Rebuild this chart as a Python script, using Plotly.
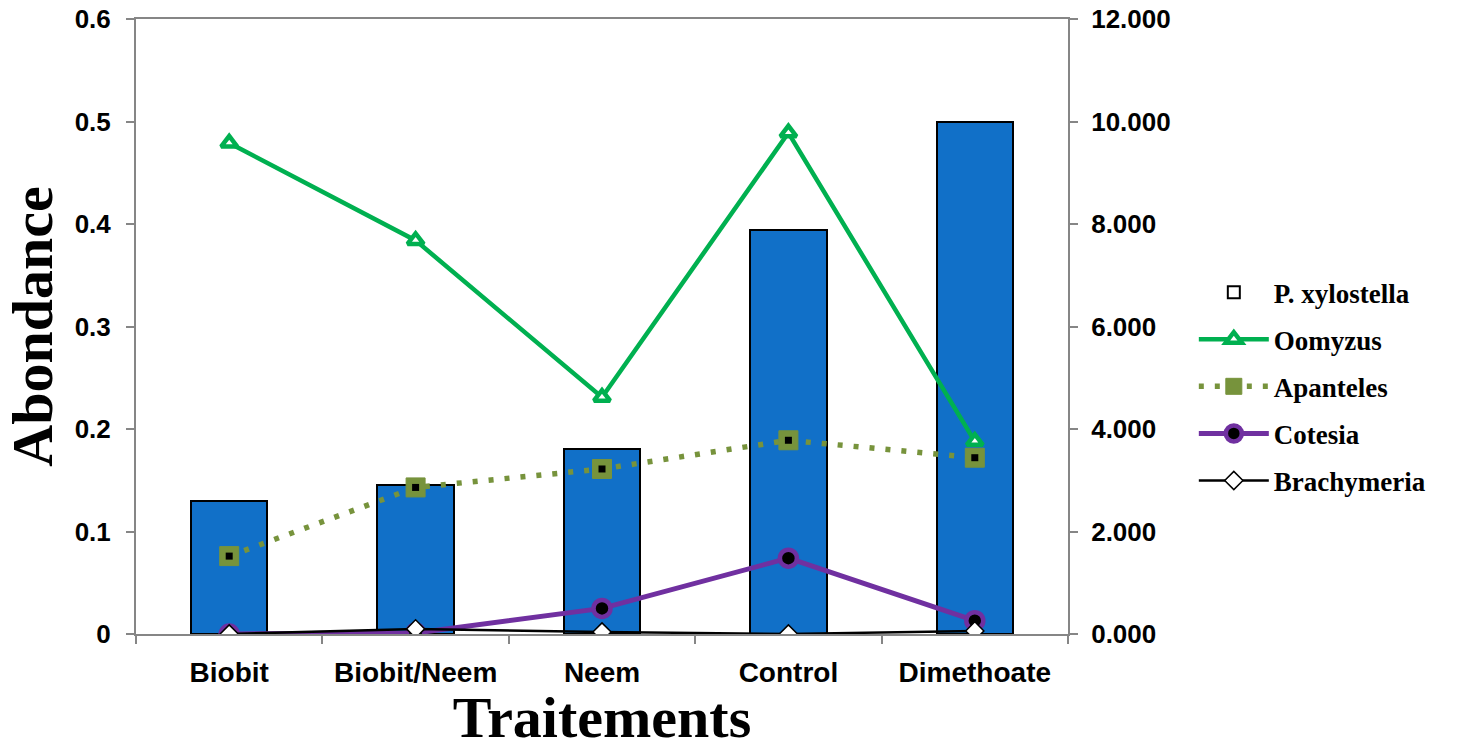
import plotly.graph_objects as go

# Treatments on the x axis
traitements = ["Biobit", "Biobit/Neem", "Neem", "Control", "Dimethoate"]

# P. xylostella abundance (right-hand axis)
p_xylostella = [2.6, 2.9, 3.61, 7.88, 10.0]

# Parasitoid abundances (left-hand axis)
oomyzus = [0.479, 0.384, 0.231, 0.489, 0.188]
apanteles = [0.076, 0.143, 0.161, 0.189, 0.172]
cotesia = [0.0, 0.001, 0.025, 0.074, 0.013]
brachymeria = [0.0, 0.005, 0.002, 0.0, 0.003]

left_ticks = [0, 0.1, 0.2, 0.3, 0.4, 0.5, 0.6]
right_ticks = [0, 2, 4, 6, 8, 10, 12]

AXIS_GREY = "#868686"
SERIF = "Liberation Serif"
SANS = "Liberation Sans"

fig = go.Figure()

# Bars on the primary axis (shown on the right) so the lines overlay them
fig.add_trace(go.Bar(
    x=traitements, y=p_xylostella, yaxis="y", width=0.41,
    marker=dict(color="#1170C8", line=dict(color="black", width=2)),
    showlegend=False, hoverinfo="x+y",
))
# Legend entry for the bars (white box with black outline)
fig.add_trace(go.Bar(
    x=[None], y=[None], yaxis="y", name="P. xylostella", legendgroup="a",
    marker=dict(color="white", line=dict(color="black", width=2)),
))

fig.add_trace(go.Scatter(
    x=traitements, y=oomyzus, yaxis="y2", name="Oomyzus", legendgroup="b",
    mode="lines+markers",
    line=dict(color="#00B050", width=4.5),
    marker=dict(symbol="triangle-up", size=14, color="white",
                line=dict(color="#00B050", width=4.5)),
))

fig.add_trace(go.Scatter(
    x=traitements, y=apanteles, yaxis="y2", name="Apanteles", legendgroup="c",
    mode="lines+markers",
    line=dict(color="#77933C", width=5.5, dash="5px,11px"),
    marker=dict(symbol="square", size=19, color="#77933C",
                line=dict(color="#77933C", width=1)),
))
fig.add_trace(go.Scatter(
    x=traitements, y=apanteles, yaxis="y2", legendgroup="c",
    mode="markers", showlegend=False, hoverinfo="skip",
    marker=dict(symbol="square", size=7, color="black"),
))

fig.add_trace(go.Scatter(
    x=traitements, y=cotesia, yaxis="y2", name="Cotesia", legendgroup="d",
    mode="lines+markers",
    line=dict(color="#7030A0", width=5),
    marker=dict(symbol="circle", size=17, color="black",
                line=dict(color="#7030A0", width=4.5)),
))

fig.add_trace(go.Scatter(
    x=traitements, y=brachymeria, yaxis="y2", name="Brachymeria", legendgroup="e",
    mode="lines+markers",
    line=dict(color="black", width=2.5),
    marker=dict(symbol="diamond", size=14, color="white",
                line=dict(color="black", width=1.5)),
))

y_tick_font = dict(family=SANS, size=26, color="black", weight="bold")
x_tick_font = dict(family=SANS, size=28, color="black", weight="bold")
title_font = dict(family=SERIF, size=58, color="black", weight="bold")

fig.update_layout(
    width=1459, height=750,
    margin=dict(l=136, r=391, t=19, b=116),
    paper_bgcolor="white", plot_bgcolor="white",
    bargap=0,
    xaxis=dict(
        type="category", range=[-0.5, 4.5], automargin=False,
        showline=True, linecolor=AXIS_GREY, linewidth=2, mirror=True,
        ticks="outside", tickson="boundaries", ticklen=8, tickcolor=AXIS_GREY,
        tickwidth=2, tickfont=x_tick_font, ticklabelstandoff=12, showgrid=False,
        title=dict(text="Traitements", standoff=18, font=title_font),
    ),
    yaxis=dict(
        side="right", range=[0, 12], tickvals=right_ticks, tickformat=".3f",
        automargin=False,
        showline=True, linecolor=AXIS_GREY, linewidth=2,
        ticks="outside", ticklen=8, tickcolor=AXIS_GREY, tickwidth=2,
        tickfont=y_tick_font, ticklabelstandoff=8,
        showgrid=False, zeroline=False,
    ),
    yaxis2=dict(
        overlaying="y", side="left", range=[0, 0.6], tickvals=left_ticks,
        automargin=False,
        showline=True, linecolor=AXIS_GREY, linewidth=2,
        ticks="outside", ticklen=8, tickcolor=AXIS_GREY, tickwidth=2,
        tickfont=y_tick_font, ticklabelstandoff=10,
        showgrid=False, zeroline=False,
        title=dict(text="Abondance", standoff=12, font=title_font),
    ),
    legend=dict(
        x=1.135, y=0.595, xanchor="left", yanchor="top",
        font=dict(family=SERIF, size=27, color="black", weight="bold"),
        itemwidth=70, tracegroupgap=9, bgcolor="rgba(0,0,0,0)",
    ),
)

fig.write_html("out.html")
